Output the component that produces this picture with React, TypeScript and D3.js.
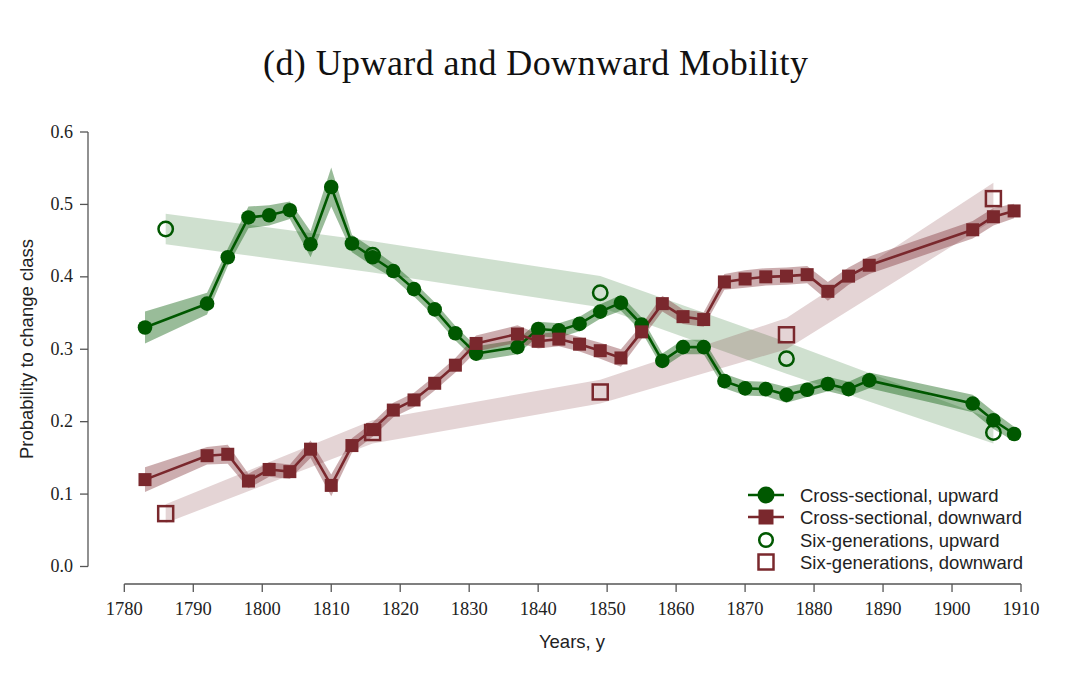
import React from "react";
import * as d3 from "d3";

// ---------- data ----------
const crossYears = [1783, 1792, 1795, 1798, 1801, 1804, 1807, 1810, 1813, 1816, 1819, 1822, 1825, 1828, 1831, 1837, 1840, 1843, 1846, 1849, 1852, 1855, 1858, 1861, 1864, 1867, 1870, 1873, 1876, 1879, 1882, 1885, 1888, 1903, 1906, 1909];
const crossUp = [0.330, 0.363, 0.427, 0.482, 0.485, 0.492, 0.445, 0.524, 0.446, 0.427, 0.408, 0.383, 0.355, 0.322, 0.294, 0.303, 0.328, 0.326, 0.335, 0.352, 0.364, 0.334, 0.284, 0.303, 0.303, 0.256, 0.246, 0.245, 0.237, 0.244, 0.252, 0.245, 0.257, 0.225, 0.202, 0.183];
const crossUpCI = [0.022, 0.015, 0.012, 0.015, 0.014, 0.012, 0.018, 0.027, 0.012, 0.012, 0.010, 0.010, 0.010, 0.010, 0.010, 0.010, 0.010, 0.010, 0.010, 0.010, 0.011, 0.010, 0.010, 0.010, 0.010, 0.010, 0.010, 0.010, 0.011, 0.010, 0.010, 0.010, 0.011, 0.012, 0.012, 0.010];
const crossDown = [0.120, 0.153, 0.155, 0.118, 0.134, 0.131, 0.162, 0.112, 0.167, 0.189, 0.216, 0.230, 0.253, 0.278, 0.308, 0.321, 0.311, 0.314, 0.307, 0.298, 0.288, 0.324, 0.363, 0.345, 0.341, 0.393, 0.397, 0.400, 0.401, 0.403, 0.380, 0.401, 0.416, 0.465, 0.483, 0.491];
const crossDownCI = [0.017, 0.012, 0.013, 0.010, 0.010, 0.010, 0.012, 0.015, 0.010, 0.010, 0.010, 0.010, 0.010, 0.010, 0.011, 0.012, 0.010, 0.010, 0.010, 0.011, 0.012, 0.010, 0.011, 0.010, 0.010, 0.011, 0.012, 0.012, 0.012, 0.012, 0.013, 0.012, 0.012, 0.012, 0.012, 0.010];

const sixYears = [1786, 1816, 1849, 1876, 1906];
const sixUp = [0.466, 0.430, 0.378, 0.287, 0.185];
const sixUpLo = [0.445, 0.406, 0.358, 0.266, 0.170];
const sixUpHi = [0.487, 0.449, 0.401, 0.310, 0.203];
const sixDown = [0.073, 0.185, 0.241, 0.320, 0.508];
const sixDownLo = [0.060, 0.170, 0.225, 0.300, 0.478];
const sixDownHi = [0.086, 0.202, 0.258, 0.343, 0.530];

const xTickValues = [1780, 1790, 1800, 1810, 1820, 1830, 1840, 1850, 1860, 1870, 1880, 1890, 1900, 1910];
const yTickValues = [0.0, 0.1, 0.2, 0.3, 0.4, 0.5, 0.6];

const legendLabels = [
  "Cross-sectional, upward",
  "Cross-sectional, downward",
  "Six-generations, upward",
  "Six-generations, downward",
];

// ---------- style ----------
const GREEN = "rgb(0,88,0)";
const MAROON = "rgb(122,40,45)";
const SERIF = "'Liberation Serif', 'Times New Roman', serif";
const SANS = "'Liberation Sans', Arial, sans-serif";
const AXIS = "#555";

export default function App() {
  const W = 1080;
  const H = 675;
  const x = d3.scaleLinear().domain([1780, 1910]).range([124.3, 1021]);
  const y = d3.scaleLinear().domain([0, 0.6]).range([566.5, 132]);

  type Band = { yr: number; lo: number; hi: number };
  const area = d3
    .area<Band>()
    .x((d) => x(d.yr))
    .y0((d) => y(d.lo))
    .y1((d) => y(d.hi));
  const line = d3
    .line<{ yr: number; v: number }>()
    .x((d) => x(d.yr))
    .y((d) => y(d.v));

  const sixUpBand = sixYears.map((yr, i) => ({ yr, lo: sixUpLo[i], hi: sixUpHi[i] }));
  const sixDownBand = sixYears.map((yr, i) => ({ yr, lo: sixDownLo[i], hi: sixDownHi[i] }));
  const upBand = crossYears.map((yr, i) => ({ yr, lo: crossUp[i] - crossUpCI[i], hi: crossUp[i] + crossUpCI[i] }));
  const downBand = crossYears.map((yr, i) => ({ yr, lo: crossDown[i] - crossDownCI[i], hi: crossDown[i] + crossDownCI[i] }));
  const upPts = crossYears.map((yr, i) => ({ yr, v: crossUp[i] }));
  const downPts = crossYears.map((yr, i) => ({ yr, v: crossDown[i] }));

  const sq = 13;
  const hsq = 15;
  const legendY = [495, 517, 540, 562];

  return (
    <div style={{ position: "absolute", left: 0, top: 0, width: W, height: H, background: "#fff" }}>
      <svg width={W} height={H} viewBox={`0 0 ${W} ${H}`} style={{ display: "block" }}>
        <rect x={0} y={0} width={W} height={H} fill="#fff" />
        {/* title */}
        <text x={535.5} y={75} textAnchor="middle" fontFamily={SERIF} fontSize={36} fill="#111" textLength={545} lengthAdjust="spacing">
          (d) Upward and Downward Mobility
        </text>

        {/* six-generation bands */}
        <path d={area(sixUpBand) || ""} fill={GREEN} fillOpacity={0.19} stroke="none" />
        <path d={area(sixDownBand) || ""} fill={MAROON} fillOpacity={0.2} stroke="none" />

        {/* cross-sectional CI bands */}
        <path d={area(upBand) || ""} fill={GREEN} fillOpacity={0.4} stroke="none" />
        <path d={area(downBand) || ""} fill={MAROON} fillOpacity={0.38} stroke="none" />

        {/* lines */}
        <path d={line(upPts) || ""} fill="none" stroke={GREEN} strokeWidth={2.6} />
        <path d={line(downPts) || ""} fill="none" stroke={MAROON} strokeWidth={2.6} />

        {/* markers */}
        {upPts.map((d, i) => (
          <circle key={"u" + i} cx={x(d.yr)} cy={y(d.v)} r={7.3} fill={GREEN} />
        ))}
        {downPts.map((d, i) => (
          <rect key={"d" + i} x={x(d.yr) - sq / 2} y={y(d.v) - sq / 2} width={sq} height={sq} fill={MAROON} />
        ))}

        {/* six-generation hollow markers */}
        {sixYears.map((yr, i) => (
          <circle key={"su" + i} cx={x(yr)} cy={y(sixUp[i])} r={7.2} fill="none" stroke={GREEN} strokeWidth={2.5} />
        ))}
        {sixYears.map((yr, i) => (
          <rect key={"sd" + i} x={x(yr) - hsq / 2} y={y(sixDown[i]) - hsq / 2} width={hsq} height={hsq} fill="none" stroke={MAROON} strokeWidth={2.5} />
        ))}

        {/* y axis */}
        <line x1={88} x2={88} y1={y(0)} y2={y(0.6)} stroke={AXIS} strokeWidth={1.3} />
        {yTickValues.map((v) => (
          <g key={"yt" + v}>
            <line x1={80} x2={88} y1={y(v)} y2={y(v)} stroke={AXIS} strokeWidth={1.3} />
            <text x={73} y={y(v) + 5.5} textAnchor="end" fontFamily={SERIF} fontSize={18} fill="#222">
              {v.toFixed(1)}
            </text>
          </g>
        ))}
        <text
          transform={`translate(33, 349) rotate(-90)`}
          textAnchor="middle"
          fontFamily={SANS}
          fontSize={18.5}
          fill="#222"
        >
          Probability to change class
        </text>

        {/* x axis */}
        <line x1={x(1780)} x2={x(1910)} y1={584} y2={584} stroke={AXIS} strokeWidth={1.3} />
        {xTickValues.map((t) => (
          <g key={"xt" + t}>
            <line x1={x(t)} x2={x(t)} y1={584} y2={592} stroke={AXIS} strokeWidth={1.3} />
            <text x={x(t)} y={615} textAnchor="middle" fontFamily={SERIF} fontSize={18.5} fill="#222">
              {t}
            </text>
          </g>
        ))}
        <text x={572} y={648} textAnchor="middle" fontFamily={SANS} fontSize={18.5} fill="#222">
          Years, y
        </text>

        {/* legend */}
        <g>
          <line x1={748} x2={784} y1={legendY[0]} y2={legendY[0]} stroke={GREEN} strokeWidth={2.6} />
          <circle cx={766} cy={legendY[0]} r={8.5} fill={GREEN} />
          <line x1={748} x2={784} y1={legendY[1]} y2={legendY[1]} stroke={MAROON} strokeWidth={2.6} />
          <rect x={766 - 7.5} y={legendY[1] - 7.5} width={15} height={15} fill={MAROON} />
          <circle cx={766} cy={legendY[2]} r={6.8} fill="none" stroke={GREEN} strokeWidth={2.5} />
          <rect x={766 - 7.5} y={legendY[3] - 7.5} width={15} height={15} fill="none" stroke={MAROON} strokeWidth={2.5} />
          {legendLabels.map((l, i) => (
            <text key={l} x={800} y={legendY[i] + 6.5} fontFamily={SANS} fontSize={18.5} fill="#222">
              {l}
            </text>
          ))}
        </g>
      </svg>
    </div>
  );
}
